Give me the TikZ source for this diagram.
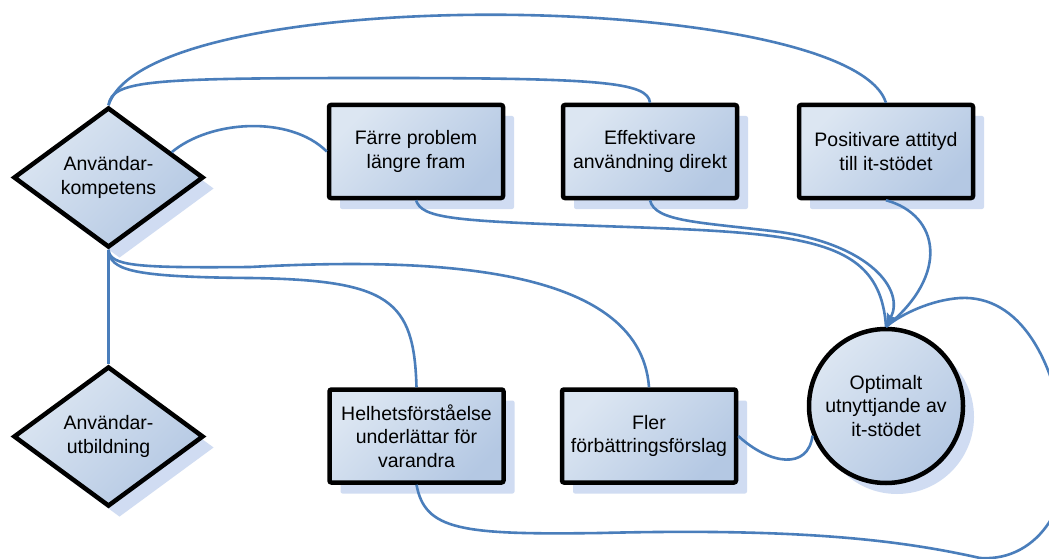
\documentclass[tikz,border=0pt]{standalone}
\usepackage{fontspec}
\setmainfont{Liberation Sans}
\usetikzlibrary{shapes.geometric,shadows,arrows.meta,calc}
\definecolor{linkblue}{HTML}{4A7EBB}
\definecolor{filltop}{HTML}{DCE6F2}
\definecolor{fillbot}{HTML}{B4C8E3}
\definecolor{shadowblue}{HTML}{D0DCF2}
\begin{document}
\begin{tikzpicture}[x=1pt,y=-1pt,
  base/.style={draw=black, line width=4.5pt, top color=filltop, bottom color=fillbot,
    shading angle=45, align=center, text=black, inner sep=0pt,
    font=\fontsize{19.5}{23.5}\selectfont,
    drop shadow={shadow xshift=11pt, shadow yshift=-11pt, fill=shadowblue, opacity=1}},
  stepbox/.style={base, rectangle, rounded corners=2pt, minimum width=174pt, minimum height=93pt},
  decision/.style={base, diamond, aspect=1.36, minimum width=190pt, minimum height=140pt},
  goal/.style={base, circle, minimum size=154pt},
  link/.style={draw=linkblue, line width=2.6pt},
  tip/.style={-{Stealth[length=13pt,width=11pt,inset=2pt]}}
]
\clip (0,0) rectangle (1049,559);
\fill[white] (0,0) rectangle (1049,559);

% nodes
\node[decision] (k)  at (108.5,177.5) {Användar-\\kompetens};
\node[decision] (u)  at (108.5,436.5) {Användar-\\utbildning};
\node[stepbox]  (f)  at (416,151.5) {Färre problem\\längre fram};
\node[stepbox]  (e)  at (650,151.5) {Effektivare\\användning direkt};
\node[stepbox]  (p)  at (886,151.5) {Positivare attityd\\till it-stödet};
\node[stepbox]  (h)  at (416.5,436) {Helhetsförståelse\\underlättar för\\varandra};
\node[stepbox]  (fl) at (649,436) {Fler\\förbättringsförslag};
\node[goal]     (o)  at (886,406) {Optimalt\\utnyttjande av\\it-stödet};

% connectors from Användarkompetens
\draw[link] (k.north) .. controls (150,-20) and (850,-10) .. (p.north);
\draw[link] (k.north) .. controls (112,80) and (150,78) .. (380,78)
                      .. controls (600,78) and (648,82) .. (e.north);
\coordinate (kne) at ($(k.north)!0.65!(k.east)$);
\draw[link] (kne) .. controls (210,120) and (290,115) .. (f.west);
\draw[link] (k.south) -- (u.north);
\draw[link] (k.south) .. controls (110,270) and (130,277) .. (250,278)
                      .. controls (390,280) and (414,300) .. (h.north);
\draw[link] (k.south) .. controls (110,266) and (135,268) .. (250,267)
                      .. controls (420,258) and (640,262) .. (fl.north);

% connectors into Optimalt utnyttjande
\draw[link] (f.south) .. controls (422,218) and (450,221) .. (600,226)
                      .. controls (800,233) and (880,235) .. (o.north);
\draw[link] (p.south) .. controls (940,215) and (950,275) .. (o.north);
\draw[link] (fl.east) .. controls (770,465) and (808,470) .. (o.202);
\draw[link] (h.south) .. controls (425,530) and (460,535) .. (600,533)
                      .. controls (800,528) and (900,540) .. (980,558)
                      .. controls (1040,562) and (1075,500) .. (1065,440)
                      .. controls (1055,360) and (1020,295) .. (960,298)
                      .. controls (930,300) and (900,315) .. (o.north);
\draw[link,tip] (e.south) .. controls (655,222) and (700,222) .. (780,232)
                      .. controls (870,245) and (905,290) .. (o.north);
\end{tikzpicture}
\end{document}
